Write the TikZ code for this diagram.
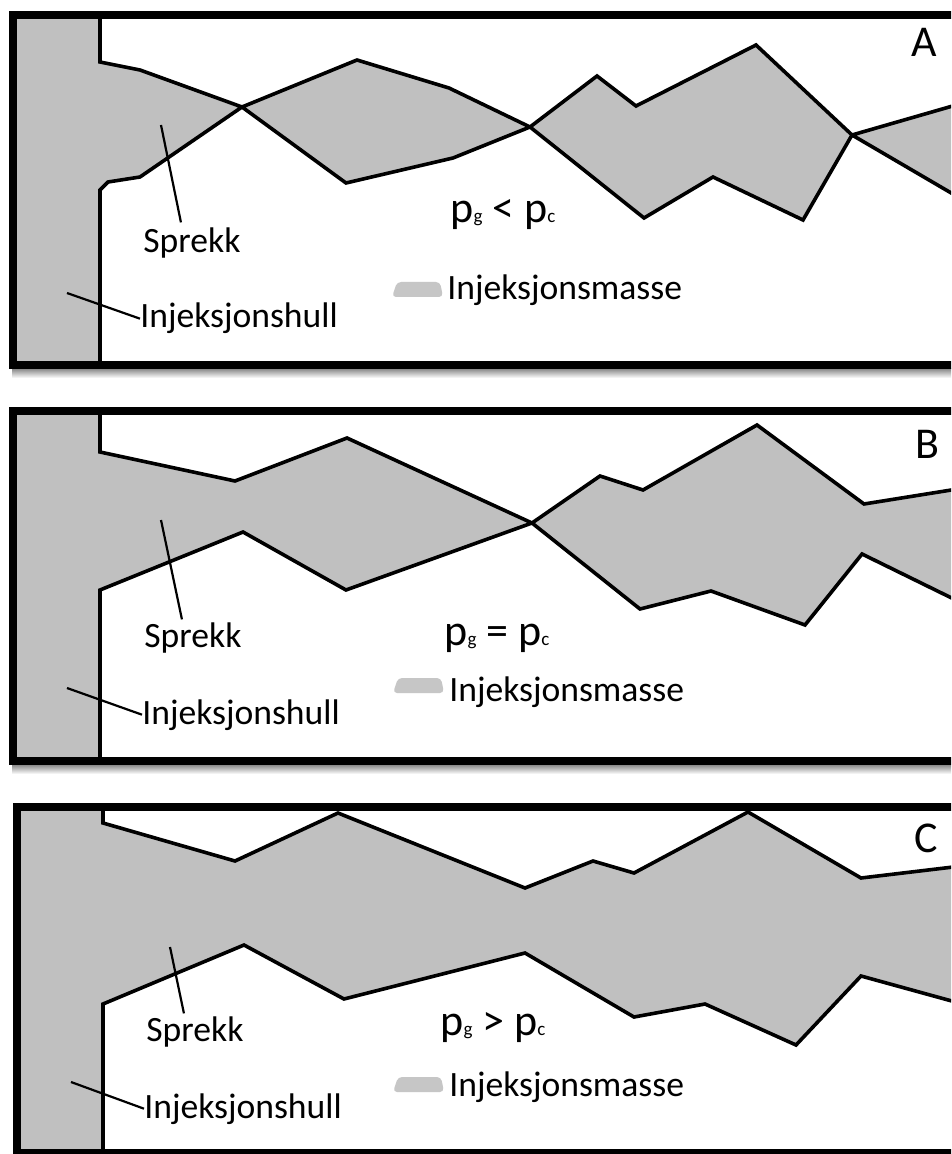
\documentclass[tikz,border=0pt]{standalone}
\usepackage{fontspec}
\setmainfont{Carlito}
\definecolor{grout}{HTML}{C0C0C0}
\newcommand{\psub}[1]{{\fontsize{9.5}{9.5}\selectfont #1}}

\begin{document}
\begin{tikzpicture}[x=0.5pt,y=-0.5pt,
	frame/.style={line width=4pt},
	crack/.style={fill=grout, draw=black, line width=1.8pt},
	pointer/.style={line width=1.1pt},
	lbl/.style={inner sep=0pt, anchor=base west, font=\fontsize{17.8}{21}\selectfont},
	tag/.style={inner sep=0pt, anchor=base, font=\fontsize{22}{26}\selectfont},
	swatch/.style={fill=grout!90, rounded corners=2pt},
	shadow/.style={top color=black!45, bottom color=white}]
	\clip (0,0) rectangle (951,1154);

	% A: p_g < p_c
	\shade[shadow] (12,369) rectangle (951,378);
	\fill[white] (13,15) rectangle (970,365);
	\filldraw[crack] (13,15) -- (100,15) -- (100,62) -- (140,70) -- (242,107) -- (357,60) -- (449,88) -- (530,127)
		-- (597,76) -- (636,106) -- (756,45) -- (852,135) -- (970,101)
		-- (970,204) -- (852,135) -- (803,220) -- (713,177) -- (644,218) -- (530,127) -- (453,158) -- (346,183)
		-- (242,107) -- (140,177) -- (108,182) -- (100,190) -- (100,365) -- (13,365) -- cycle;
	\draw[frame] (13,15) rectangle (970,365);

	\node[tag] (tagA) at (924,57) {A};
	\node[tag] (presA) at (503,223) {p\psub{g} < p\psub{c}};
	\fill[swatch] (397,282) -- (440,282) -- (443,297) -- (392,297) -- cycle;
	\node[lbl] (massA) at (447,300) {Injeksjonsmasse};
	\node[lbl] (sprA) at (143,252.5) {Sprekk};
	\node[lbl] (hullA) at (140,328) {Injeksjonshull};
	\coordinate (sprtipA) at (161,125);
	\coordinate (hulltipA) at (67,293);
	\draw[pointer] (sprtipA) -- ([xshift=-5.5pt,yshift=2.5pt]sprA.north);
	\draw[pointer] (hulltipA) -- (hullA.west);

	% B: p_g = p_c
	\shade[shadow] (12,765) rectangle (951,774);
	\fill[white] (13,411) rectangle (970,761);
	\filldraw[crack] (13,411) -- (100,411) -- (100,452) -- (235,481) -- (347,438) -- (532,523)
		-- (600,476) -- (643,490) -- (757,425) -- (864,504) -- (970,487)
		-- (970,607) -- (862,554) -- (805,625) -- (711,591) -- (640,609) -- (532,523)
		-- (346,590) -- (243,532) -- (100,590) -- (100,761) -- (13,761) -- cycle;
	\draw[frame] (13,411) rectangle (970,761);

	\node[tag] (tagB) at (927,458) {B};
	\node[tag] (presB) at (497,645) {p\psub{g} = p\psub{c}};
	\fill[swatch] (398,678) -- (441,678) -- (444,693) -- (393,693) -- cycle;
	\node[lbl] (massB) at (449,701) {Injeksjonsmasse};
	\node[lbl] (sprB) at (144,647.5) {Sprekk};
	\node[lbl] (hullB) at (142,724) {Injeksjonshull};
	\coordinate (sprtipB) at (161,520);
	\coordinate (hulltipB) at (67,688);
	\draw[pointer] (sprtipB) -- ([xshift=-5.5pt,yshift=1.5pt]sprB.north);
	\draw[pointer] (hulltipB) -- (hullB.west);

	% C: p_g > p_c
	\fill[white] (17,806.5) rectangle (970,1153);
	\filldraw[crack] (17,806.5) -- (103,806.5) -- (103,823) -- (235,861) -- (338,813) -- (525,888) -- (593,861)
		-- (634,873) -- (748,812) -- (861,878) -- (970,865)
		-- (970,1006) -- (861,976) -- (796,1045) -- (705,1004) -- (634,1017) -- (525,953)
		-- (344,999) -- (244,945) -- (103,1004) -- (103,1153) -- (17,1153) -- cycle;
	\draw[frame] (17,806.5) rectangle (970,1153);

	\node[tag] (tagC) at (926,852) {C};
	\node[tag] (presC) at (493,1035) {p\psub{g} > p\psub{c}};
	\fill[swatch] (398,1077) -- (441,1077) -- (444,1092) -- (393,1092) -- cycle;
	\node[lbl] (massC) at (449,1096) {Injeksjonsmasse};
	\node[lbl] (sprC) at (146,1041.5) {Sprekk};
	\node[lbl] (hullC) at (144,1118) {Injeksjonshull};
	\coordinate (sprtipC) at (170,947);
	\coordinate (hulltipC) at (71,1082);
	\draw[pointer] (sprtipC) -- ([xshift=-5.5pt,yshift=1.5pt]sprC.north);
	\draw[pointer] (hulltipC) -- (hullC.west);
\end{tikzpicture}
\end{document}
